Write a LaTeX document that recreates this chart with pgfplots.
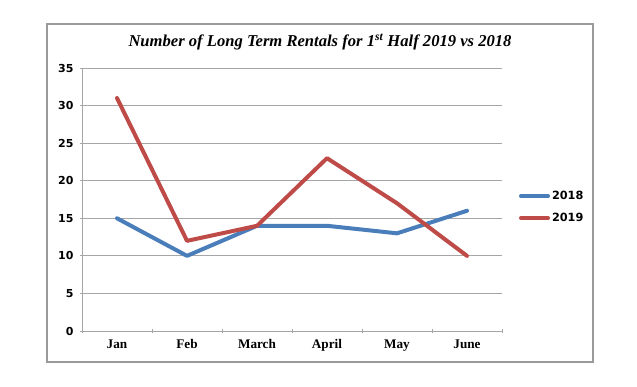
\documentclass[border=0pt]{standalone}
\usepackage{pgfplots}
\pgfplotsset{compat=1.18}
\usepackage{fontspec}
\setmainfont{Liberation Serif}
\newfontfamily\dvs{DejaVu Sans}
\definecolor{b18}{HTML}{4A7EBB}
\definecolor{r19}{HTML}{BE4B48}
\definecolor{gridc}{HTML}{A6A6A6}
\definecolor{framec}{HTML}{9A9A9A}
\begin{document}
\begin{tikzpicture}
\useasboundingbox (0,0) rectangle (637pt,-386pt);
\fill[white] (0,0) rectangle (637pt,-386pt);
\draw[color=framec, line width=1.2pt] (47pt,-24pt) rectangle (593pt,-362pt);
\node[font=\fontsize{16.6}{18}\selectfont\bfseries\itshape] at (320pt,-42pt) {Number of Long Term Rentals for 1\textsuperscript{st} Half 2019 vs 2018};
\begin{axis}[
  at={(82pt,-331pt)}, anchor=south west,
  scale only axis, width=420pt, height=263pt,
  xmin=0.5, xmax=6.5, ymin=0, ymax=35,
  ytick={0,5,...,35},
  xtick={1,...,6},
  xticklabels={Jan,Feb,March,April,May,June},
  minor xtick={0.5,1.5,...,6.5},
  major x tick style={draw=none},
  minor x tick style={gridc, line width=0.8pt},
  major y tick style={gridc, line width=0.8pt},
  tick align=outside,
  major tick length=4pt, minor tick length=4pt,
  axis x line=bottom, axis y line=left,
  axis line style={gridc, line width=0.9pt, -},
  ymajorgrids,
  grid style={gridc, line width=0.8pt},
  yticklabel style={font=\dvs\bfseries\fontsize{11}{13}\selectfont, xshift=-3pt},
  xticklabel style={font=\bfseries\fontsize{13.2}{15}\selectfont, yshift=-3pt},
  /pgf/number format/assume math mode=true,
  legend style={at={(1.04,0.471)}, anchor=west, draw=none, fill=none,
    font=\dvs\bfseries\fontsize{11.3}{13}\selectfont, row sep=8pt, inner sep=0pt},
  legend cell align=left,
  legend image code/.code={\draw[#1, line width=4pt, line cap=round] (0pt,0pt) -- (27pt,0pt);},
]
\addplot[b18, line width=4pt, line join=round, line cap=round] coordinates {(1,15) (2,10) (3,14) (4,14) (5,13) (6,16)};
\addlegendentry{2018}
\addplot[r19, line width=4pt, line join=round, line cap=round] coordinates {(1,31) (2,12) (3,14) (4,23) (5,17) (6,10)};
\addlegendentry{2019}
\end{axis}
\end{tikzpicture}
\end{document}
